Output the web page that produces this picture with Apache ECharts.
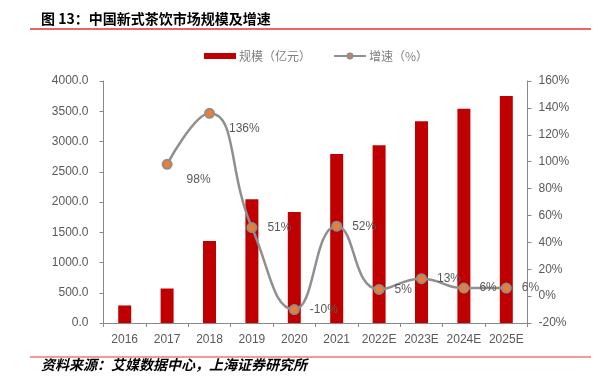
<!DOCTYPE html>
<html>
<head>
<meta charset="utf-8">
<script src="https://cdn.jsdelivr.net/npm/echarts@6/dist/echarts.min.js"></script>
<style>
html,body{margin:0;padding:0;background:#fff;}
#main{width:608px;height:387px;}
</style>
</head>
<body>
<div id="main"></div>
<script>
var categories = ['2016','2017','2018','2019','2020','2021','2022E','2023E','2024E','2025E'];
var marketSize = [290, 570, 1355, 2045, 1835, 2795, 2937, 3334, 3542, 3752];
var growthRate = [null, 98, 136, 51, -10, 52, 5, 13, 6, 6];
var leftTicks = {min: 0, max: 4000, interval: 500};
var rightTicks = {min: -20, max: 160, interval: 20};
var titleText = '图 13：中国新式茶饮市场规模及增速';
var sourceText = '资料来源：艾媒数据中心，上海证券研究所';
var seriesNames = ['规模（亿元）', '增速（%）'];

var numFont = 'Liberation Sans, Arial, sans-serif';
var cjkFont = '"Noto Sans CJK SC", sans-serif';
var axisColor = '#898989';
var labelColor = '#595959';

var lineData = growthRate.map(function (v, i) {
  if (v === null) return '-';
  if (i === 1 || i === 2) {
    return {value: v, label: {offset: [4, 15]}};
  }
  return v;
});

var chart = echarts.init(document.getElementById('main'), null, {renderer: 'canvas'});
chart.setOption({
  animation: false,
  backgroundColor: '#fff',
  textStyle: {fontFamily: numFont},
  legend: {
    top: 45,
    left: 199,
    itemGap: 22,
    itemWidth: 32,
    itemHeight: 6,
    textStyle: {color: '#7f7f7f', fontSize: 12, fontFamily: cjkFont, padding: [0,0,0,-2]},
    data: [
      {name: seriesNames[0], icon: 'rect'},
      {name: seriesNames[1]}
    ]
  },
  grid: {left: 103.5, right: 80.5, top: 81, bottom: 64, containLabel: false},
  xAxis: {
    type: 'category',
    data: categories,
    boundaryGap: true,
    axisLine: {lineStyle: {color: axisColor, width: 1}},
    axisTick: {show: true, alignWithLabel: false, length: 4, lineStyle: {color: axisColor}},
    axisLabel: {color: labelColor, fontSize: 12, margin: 11, fontFamily: numFont, interval: 0}
  },
  yAxis: [
    {
      type: 'value',
      min: leftTicks.min, max: leftTicks.max, interval: leftTicks.interval,
      axisLine: {show: true, lineStyle: {color: axisColor}},
      axisTick: {show: true, length: 4, lineStyle: {color: axisColor}},
      splitLine: {show: false},
      axisLabel: {color: labelColor, fontSize: 12, margin: 15, fontFamily: numFont,
        formatter: function (v) { return v.toFixed(1); }}
    },
    {
      type: 'value',
      position: 'right',
      min: rightTicks.min, max: rightTicks.max, interval: rightTicks.interval,
      axisLine: {show: true, lineStyle: {color: axisColor}},
      axisTick: {show: true, length: 4, lineStyle: {color: axisColor}},
      splitLine: {show: false},
      axisLabel: {color: labelColor, fontSize: 12, margin: 11, fontFamily: numFont,
        formatter: function (v) { return v + '%'; }}
    }
  ],
  series: [
    {
      name: seriesNames[0],
      type: 'bar',
      yAxisIndex: 0,
      data: marketSize,
      barWidth: 13,
      itemStyle: {color: '#c00000'}
    },
    {
      name: seriesNames[1],
      type: 'line',
      yAxisIndex: 1,
      data: lineData,
      smooth: 0.5,
      connectNulls: false,
      symbol: 'circle',
      symbolSize: 9,
      lineStyle: {color: '#8f8f8f', width: 2.5},
      itemStyle: {color: '#ed7d31', borderColor: '#8f8f8f', borderWidth: 2},
      label: {
        show: true,
        position: 'right',
        distance: 10,
        color: labelColor,
        fontSize: 12,
        fontFamily: numFont,
        formatter: function (p) { return p.value + '%'; }
      },
      z: 5
    }
  ],
  graphic: [
    {type: 'text', left: 41, top: 12, style: {text: titleText, fill: '#000', font: 'bold 14px "Noto Sans CJK SC", sans-serif'}},
    {type: 'line', shape: {x1: 30, y1: 29, x2: 591, y2: 29}, style: {stroke: '#e8302e', lineWidth: 1.5}},
    {type: 'line', shape: {x1: 30, y1: 357, x2: 591, y2: 357}, style: {stroke: '#f29a9a', lineWidth: 2}},
    {type: 'text', left: 41, top: 358, style: {text: sourceText, fill: '#000', font: 'italic bold 14px "Noto Sans CJK SC", sans-serif'}}
  ]
});
</script>
</body>
</html>
